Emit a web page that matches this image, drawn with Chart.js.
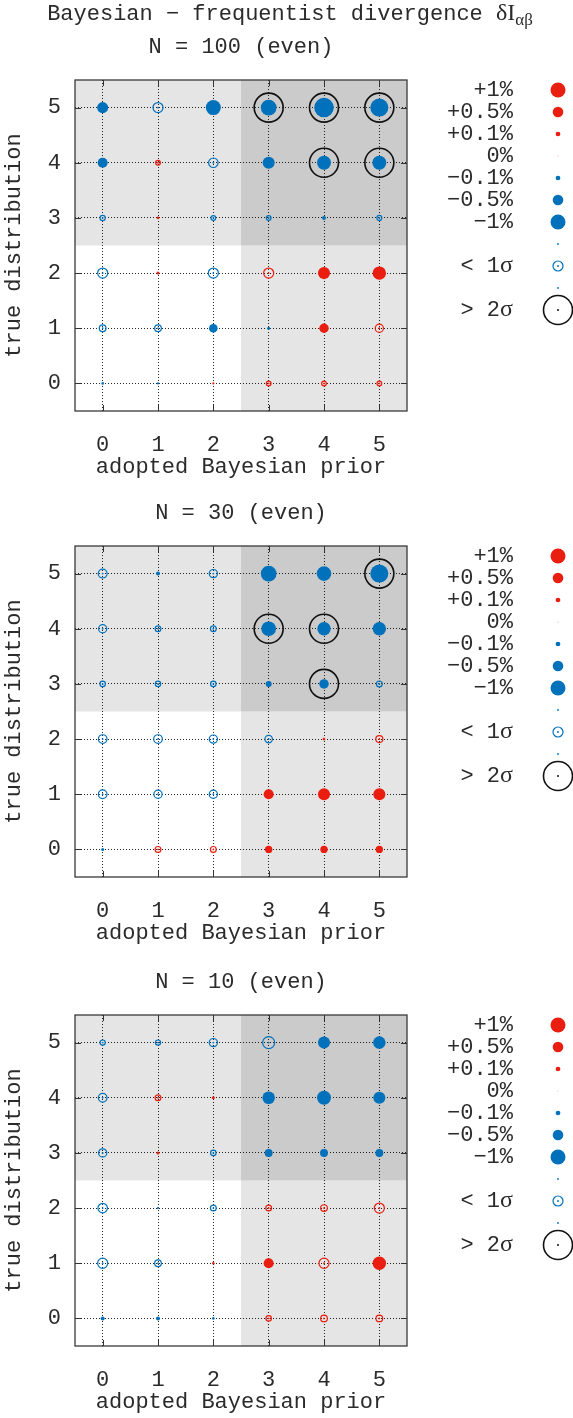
<!DOCTYPE html>
<html>
<head>
<meta charset="utf-8">
<script src="https://cdn.jsdelivr.net/npm/chart.js@4.4.1/dist/chart.umd.min.js"></script>
<style>
  body { margin: 0; background: #fff; }
  #wrap { position: relative; width: 573px; height: 1418px; }
  canvas { position: absolute; left: 0; }
</style>
</head>
<body>
<div id="wrap">
  <canvas id="c100" width="573" height="480" style="top:0px"></canvas>
  <canvas id="c30" width="573" height="480" style="top:466px"></canvas>
  <canvas id="c10" width="573" height="480" style="top:935px"></canvas>
</div>
<script>
const priors = [0, 1, 2, 3, 4, 5];
const truths = [0, 1, 2, 3, 4, 5];

// rows: true distribution 0..5, columns: adopted prior 0..5, values in %
const delta100 = [
  [-0.03, -0.02, 0.02, 0.10, 0.10, 0.10],
  [-0.20, -0.20, -0.33, -0.04, 0.40, 0.30],
  [-0.45, 0.04, -0.45, 0.45, 0.65, 0.80],
  [-0.12, 0.03, -0.10, -0.10, -0.07, -0.11],
  [-0.45, 0.10, -0.40, -0.65, -0.87, -0.87],
  [-0.55, -0.45, -1.00, -1.10, -1.70, -1.45]
];
// 0: < 1 sigma (open marker), 1: in between, 2: > 2 sigma (ringed)
const sigma100 = [
  [1, 1, 1, 0, 0, 0],
  [0, 0, 1, 1, 1, 0],
  [0, 1, 0, 0, 1, 1],
  [0, 1, 0, 0, 1, 0],
  [1, 0, 0, 1, 2, 2],
  [1, 0, 1, 2, 2, 2]
];

const delta30 = [
  [-0.04, 0.15, 0.15, 0.24, 0.24, 0.24],
  [-0.33, -0.30, -0.30, 0.45, 0.65, 0.65],
  [-0.33, -0.33, -0.30, -0.25, 0.03, 0.22],
  [-0.13, -0.13, -0.13, -0.16, -0.40, -0.15],
  [-0.30, -0.15, -0.15, -0.95, -0.80, -0.80],
  [-0.35, -0.07, -0.30, -1.10, -0.95, -1.45]
];
const sigma30 = [
  [1, 0, 0, 1, 1, 1],
  [0, 0, 0, 1, 1, 1],
  [0, 0, 0, 0, 1, 0],
  [0, 0, 0, 1, 2, 0],
  [0, 0, 0, 2, 2, 1],
  [0, 1, 0, 1, 1, 2]
];

const delta10 = [
  [-0.07, -0.07, -0.03, 0.13, 0.20, 0.20],
  [-0.45, -0.20, 0.03, 0.45, 0.45, 0.80],
  [-0.40, -0.01, -0.15, 0.15, 0.20, 0.45],
  [-0.30, 0.04, -0.13, -0.28, -0.28, -0.28],
  [-0.33, 0.15, 0.04, -0.70, -0.87, -0.65],
  [-0.12, -0.12, -0.30, -0.65, -0.65, -0.70]
];
const sigma10 = [
  [1, 1, 1, 0, 0, 0],
  [0, 0, 1, 1, 0, 1],
  [0, 1, 0, 0, 0, 0],
  [0, 1, 0, 1, 1, 1],
  [0, 0, 1, 1, 1, 1],
  [0, 0, 0, 0, 1, 1]
];

const legendValues = [1, 0.5, 0.1, 0, -0.1, -0.5, -1];
const legendLabels = ['+1%', '+0.5%', '+0.1%', '0%', '−0.1%', '−0.5%', '−1%'];

const RED = 'rgb(234,30,16)';
const BLUE = 'rgb(0,113,186)';
const TEXT = '#2b2b2b';
const MONO = '"Liberation Mono", "Courier New", monospace';
const SERIF = '"Liberation Serif", "Times New Roman", serif';

const radiusFor = v => Math.max(0.6, 7.5 * Math.sqrt(Math.abs(v)));
const colorFor = v => v > 0 ? RED : (v < 0 ? BLUE : 'rgb(246,175,170)');

const dot = (ctx, x, y, r, color) => {
    ctx.beginPath();
    ctx.arc(x, y, r, 0, Math.PI * 2);
    ctx.fillStyle = color;
    ctx.fill();
};
const ring = (ctx, x, y, r, color, w) => {
    ctx.beginPath();
    ctx.arc(x, y, r, 0, Math.PI * 2);
    ctx.strokeStyle = color;
    ctx.lineWidth = w;
    ctx.stroke();
};

const decoPlugin = {
    id: 'deco',
    beforeDraw(chart) {
        const { ctx, chartArea: a, scales: { x, y } } = chart;
        const xm = x.getPixelForValue(2.5);
        const ym = y.getPixelForValue(2.5);
        ctx.save();
        ctx.fillStyle = '#e5e5e5';
        ctx.fillRect(a.left, a.top, xm - a.left, ym - a.top);
        ctx.fillRect(xm, ym, a.right - xm, a.bottom - ym);
        ctx.fillStyle = '#cbcbcb';
        ctx.fillRect(xm, a.top, a.right - xm, ym - a.top);
        ctx.restore();
    },
    afterDatasetsDraw(chart) {
        const { ctx, chartArea: a, scales: { x, y } } = chart;
        ctx.save();
        ctx.strokeStyle = '#333';
        ctx.lineWidth = 1;
        ctx.beginPath();
        priors.forEach(p => {
            const px = Math.round(x.getPixelForValue(p)) + 0.5;
            ctx.moveTo(px, a.top); ctx.lineTo(px, a.top + 6);
            ctx.moveTo(px, a.bottom); ctx.lineTo(px, a.bottom - 6);
        });
        truths.forEach(t => {
            const py = Math.round(y.getPixelForValue(t)) + 0.5;
            ctx.moveTo(a.left, py); ctx.lineTo(a.left + 6, py);
            ctx.moveTo(a.right, py); ctx.lineTo(a.right - 6, py);
        });
        ctx.stroke();
        ctx.lineWidth = 1.3;
        ctx.strokeStyle = '#3a3a3a';
        ctx.strokeRect(a.left, a.top, a.right - a.left, a.bottom - a.top);
        ctx.restore();
    },
    afterDraw(chart, args, opts) {
        const { ctx, chartArea: a } = chart;
        ctx.save();
        ctx.fillStyle = TEXT;
        ctx.textBaseline = 'middle';
        ctx.font = `22px ${MONO}`;
        ctx.textAlign = 'center';
        ctx.fillText(opts.title, (a.left + a.right) / 2, a.top - 33);

        if (opts.main) {
            const t1 = 'Bayesian − frequentist divergence ';
            ctx.font = `22px ${MONO}`;
            const w1 = ctx.measureText(t1).width;
            ctx.font = `24px ${SERIF}`;
            const w2 = ctx.measureText('δI').width;
            ctx.font = `17px ${SERIF}`;
            const w3 = ctx.measureText('αβ').width;
            let sx = 290 - (w1 + w2 + w3) / 2;
            ctx.textAlign = 'left';
            ctx.font = `22px ${MONO}`;
            ctx.fillText(t1, sx, 14);
            sx += w1;
            ctx.font = `24px ${SERIF}`;
            ctx.fillText('δI', sx, 14);
            sx += w2;
            ctx.font = `17px ${SERIF}`;
            ctx.fillText('αβ', sx, 21);
        }

        // key on the right
        const lx = 513, mx = 558, ly = a.top + 10, step = 22;
        ctx.textAlign = 'right';
        ctx.font = `22px ${MONO}`;
        legendValues.forEach((v, i) => {
            ctx.fillStyle = TEXT;
            ctx.fillText(legendLabels[i], lx, ly + step * i);
            dot(ctx, mx, ly + step * i, radiusFor(v), colorFor(v));
        });
        dot(ctx, mx, ly + step * 7, 0.9, BLUE);
        dot(ctx, mx, ly + step * 9, 0.9, BLUE);
        ctx.font = `24px ${SERIF}`;
        const ws = ctx.measureText('σ').width;
        [['< 1', 8], ['> 2', 10]].forEach(([s, i]) => {
            ctx.fillStyle = TEXT;
            ctx.font = `22px ${MONO}`;
            ctx.fillText(s, lx - ws, ly + step * i);
            ctx.font = `24px ${SERIF}`;
            ctx.fillText('σ', lx, ly + step * i);
        });
        ring(ctx, mx, ly + step * 8, 5, BLUE, 1.2);
        dot(ctx, mx, ly + step * 8, 0.9, BLUE);
        ring(ctx, mx, ly + step * 10, 14.5, '#111', 1.6);
        dot(ctx, mx, ly + step * 10, 1, '#111');
        ctx.restore();
    }
};

const buildDatasets = (delta, sigma) => {
    const cells = [];
    truths.forEach((t, i) => priors.forEach((p, j) => {
        cells.push({ x: p, y: t, v: delta[i][j], s: sigma[i][j] });
    }));
    const vr = c => c.raw ? Math.max(1.1, radiusFor(c.raw.v)) : 3;
    const vc = c => c.raw ? colorFor(c.raw.v) : BLUE;
    return [
        { data: cells.filter(c => c.s > 0), pointRadius: vr, pointBackgroundColor: vc, pointBorderWidth: 0 },
        { data: cells.filter(c => c.s === 0), pointRadius: vr, pointBackgroundColor: 'rgba(0,0,0,0)',
          pointBorderColor: vc, pointBorderWidth: 1.2 },
        { data: cells.filter(c => c.s === 0), pointRadius: 0.9, pointBackgroundColor: vc, pointBorderWidth: 0 },
        { data: cells.filter(c => c.s === 2), pointRadius: 14.5, pointBackgroundColor: 'rgba(0,0,0,0)',
          pointBorderColor: '#111', pointBorderWidth: 1.6 }
    ];
};

const axis = (title, isX) => ({
    type: 'linear',
    min: -0.5,
    max: 5.5,
    afterBuildTicks: s => { s.ticks = (isX ? priors : truths).map(v => ({ value: v })); },
    afterFit: s => { if (isX) { s.height = 69; } else { s.width = 75; } },
    ticks: { font: { family: MONO, size: 22 }, color: TEXT, padding: isX ? 21 : 14, autoSkip: false, maxRotation: 0 },
    grid: { color: 'rgba(0,0,0,0.85)', lineWidth: 1, drawTicks: false },
    border: { display: false, dash: [1, 2] },
    title: { display: true, text: title, font: { family: MONO, size: 22 }, color: TEXT, padding: { top: 1, bottom: 0 } }
});

const makePanel = (id, delta, sigma, title, main) => new Chart(document.getElementById(id), {
    type: 'scatter',
    data: { datasets: buildDatasets(delta, sigma) },
    options: {
        responsive: false,
        animation: false,
        devicePixelRatio: 1,
        events: [],
        layout: { padding: { top: 80, right: 166, left: 0, bottom: 0 } },
        plugins: { legend: { display: false }, tooltip: { enabled: false }, deco: { title, main } },
        scales: { x: axis('adopted Bayesian prior', true), y: axis('true distribution', false) }
    },
    plugins: [decoPlugin]
});

makePanel('c100', delta100, sigma100, 'N = 100 (even)', true);
makePanel('c30', delta30, sigma30, 'N = 30 (even)', false);
makePanel('c10', delta10, sigma10, 'N = 10 (even)', false);
</script>
</body>
</html>
